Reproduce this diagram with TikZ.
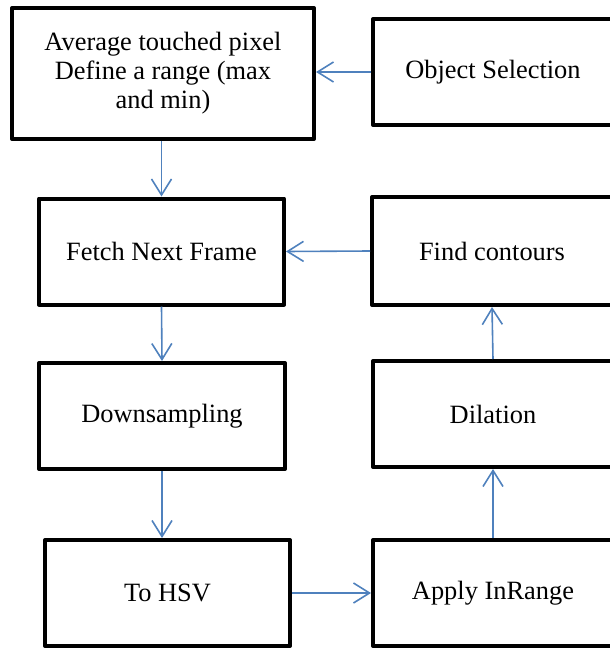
\documentclass[tikz,border=0pt]{standalone}
\usepackage{fontspec}
\setmainfont{Liberation Serif}
\usetikzlibrary{arrows.meta}
\definecolor{flowblue}{RGB}{79,129,189}
\tikzset{
	stepbox/.style={draw, line width=2pt, line join=round, minimum width=120pt, minimum height=53pt,
		inner sep=0pt, align=center, font=\fontsize{13.2}{14.5}\selectfont},
	flow/.style={draw=flowblue, line width=0.8pt, -{Straight Barb[length=8pt,width=10pt,line width=0.8pt]}}
}
\begin{document}
\begin{tikzpicture}[x=0.5pt, y=-0.5pt]
		\useasboundingbox (0,0) rectangle (610,648);
		\clip (0,0) rectangle (610,648);
		% left column
		\node[stepbox, minimum width=151pt, minimum height=65.5pt] (avg) at (163,73.5) {Average touched pixel\\Define a range (max\\and min)};
		\node[stepbox, minimum width=122.5pt] (fetch) at (161.5,251.5) {Fetch Next Frame};
		\node[stepbox, minimum width=123pt] (down) at (162,416) {Downsampling};
		\node[stepbox, minimum width=122.5pt] (hsv) at (167.5,593) {To HSV};
		% right column
		\node[stepbox] (obj) at (493,72) {Object Selection};
		\node[stepbox, minimum height=54pt] (find) at (492,251) {Find contours};
		\node[stepbox] (dil) at (493,414) {Dilation};
		\node[stepbox] (apply) at (493,593) {Apply InRange};
		% connectors
		\draw[flow] (obj.west) -- (avg.east |- obj.west);
		\draw[flow] (fetch.north |- avg.south) -- (fetch.north);
		\draw[flow] (fetch.south) -- (down.north);
		\draw[flow] (down.south) -- (down.south |- hsv.north);
		\draw[flow] (hsv.east) -- (apply.west);
		\draw[flow] (apply.north) -- (dil.south);
		\draw[flow] (dil.north) -- (find.south);
		\draw[flow] (find.west) -- (fetch.east);
	\end{tikzpicture}
\end{document}
